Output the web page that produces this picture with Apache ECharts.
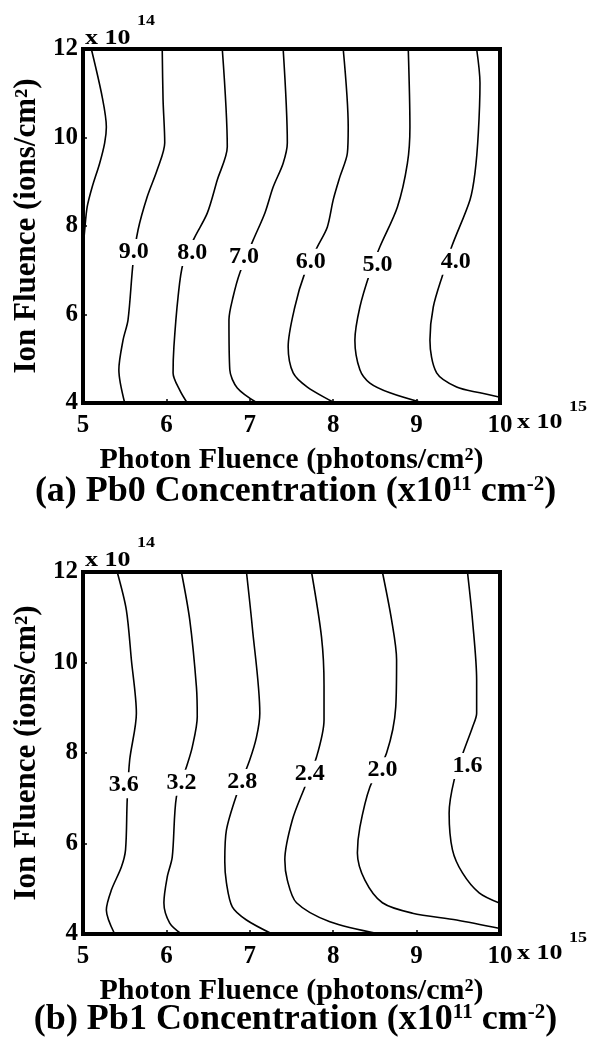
<!DOCTYPE html>
<html>
<head>
<meta charset="utf-8">
<script src="https://cdn.jsdelivr.net/npm/echarts@6/dist/echarts.min.js"></script>
<style>
  html, body { margin: 0; padding: 0; background: #fff; }
  #chart { width: 591px; height: 1042px; }
</style>
</head>
<body>
<div id="chart"></div>
<script>
// axis ranges (x in 1e15 photons/cm2, y in 1e14 ions/cm2)
const xMin = 5, xMax = 10, xStep = 1
const yMin = 4, yMax = 12, yStep = 2

// (a) Pb0 contours, [photon fluence, ion fluence]
const pb0_10 = [[5.10,12.0],[5.23,10.92],[5.28,10.24],[5.26,9.88],[5.20,9.42],[5.11,8.88],[5.05,8.43],[5.02,7.9],[5.0,7.45]]
const pb0_9 = [[5.95,12.0],[5.96,10.85],[5.98,9.88],[5.89,9.27],[5.77,8.66],[5.66,7.91],[5.60,7.16],[5.54,5.88],[5.48,5.42],[5.43,4.75],[5.50,4.0]]
const pb0_8 = [[6.67,12.0],[6.73,9.79],[6.61,9.04],[6.49,8.29],[6.34,7.75],[6.20,7.16],[6.14,6.40],[6.09,5.27],[6.08,4.68],[6.16,4.29],[6.25,4.0]]
const pb0_7 = [[7.40,12.0],[7.45,9.88],[7.40,9.42],[7.28,8.88],[7.18,8.29],[7.04,7.68],[6.88,6.94],[6.80,6.40],[6.75,5.88],[6.76,4.75],[6.85,4.34],[7.09,4.0]]
const pb0_6 = [[8.12,12.0],[8.18,10.24],[8.17,9.65],[8.08,9.11],[8.00,8.59],[7.93,7.98],[7.81,7.53],[7.66,6.94],[7.54,6.17],[7.46,5.27],[7.52,4.68],[7.69,4.36],[8.02,4.0]]
const pb0_5 = [[8.90,12.0],[8.92,10.24],[8.89,9.42],[8.77,8.43],[8.56,7.53],[8.44,6.94],[8.32,6.17],[8.26,5.42],[8.32,4.75],[8.44,4.45],[8.68,4.23],[9.08,4.0]]
const pb0_4 = [[9.72,12.0],[9.76,11.23],[9.74,10.10],[9.70,9.20],[9.64,8.59],[9.42,7.53],[9.32,6.94],[9.20,6.17],[9.16,5.42],[9.24,4.68],[9.48,4.36],[9.76,4.23],[10.0,4.13]]
const pb0Labels = ['9.0', '8.0', '7.0', '6.0', '5.0', '4.0']
const pb0LabelX = [5.61, 6.31, 6.93, 7.73, 8.53, 9.47]
const pb0LabelY = [7.41, 7.39, 7.30, 7.19, 7.12, 7.19]

// (b) Pb1 contours
const pb1_36 = [[5.41,12.0],[5.52,11.16],[5.58,10.06],[5.64,8.88],[5.56,7.85],[5.53,6.96],[5.51,5.86],[5.46,5.48],[5.34,4.97],[5.28,4.53],[5.38,4.0]]
const pb1_32 = [[6.18,12.0],[6.28,10.94],[6.36,9.46],[6.37,8.80],[6.31,8.13],[6.24,7.69],[6.12,7.03],[6.07,5.70],[6.01,5.26],[5.97,4.69],[6.04,4.24],[6.18,4.0]]
const pb1_28 = [[6.96,12.0],[7.03,10.78],[7.12,8.88],[7.08,8.35],[7.00,7.85],[6.85,7.12],[6.72,6.30],[6.70,5.60],[6.72,5.13],[6.79,4.60],[6.96,4.31],[7.27,4.0]]
const pb1_24 = [[7.74,12.0],[7.86,10.56],[7.89,9.50],[7.89,8.73],[7.80,7.91],[7.66,7.25],[7.51,6.52],[7.42,5.64],[7.45,5.19],[7.56,4.69],[7.96,4.27],[8.56,4.0]]
const pb1_20 = [[8.59,12.0],[8.70,10.94],[8.76,10.06],[8.75,9.02],[8.64,8.0],[8.44,7.25],[8.32,6.36],[8.29,5.79],[8.38,5.19],[8.59,4.69],[8.95,4.46],[9.48,4.31],[10.0,4.12]]
const pb1_16 = [[9.61,12.0],[9.67,10.94],[9.72,9.61],[9.72,8.88],[9.67,8.57],[9.57,8.07],[9.45,7.40],[9.39,6.67],[9.43,5.86],[9.55,5.35],[9.75,4.91],[10.0,4.68]]
const pb1Labels = ['3.6', '3.2', '2.8', '2.4', '2.0', '1.6']
const pb1LabelX = [5.49, 6.18, 6.91, 7.72, 8.59, 9.61]
const pb1LabelY = [7.29, 7.34, 7.36, 7.54, 7.62, 7.71]

const serif = '"Liberation Serif", "Times New Roman", serif'
const sup = { fontFamily: serif, fontWeight: 'bold', fill: '#000' }

const chart = echarts.init(document.getElementById('chart'))

const makeX = (gridIndex) => ({
  type: 'value', gridIndex, min: xMin, max: xMax, interval: xStep,
  axisLine: { show: false },
  axisTick: { show: true, inside: true, length: 4, lineStyle: { color: '#000', width: 1.5 } },
  splitLine: { show: false },
  axisLabel: { color: '#000', fontFamily: serif, fontWeight: 'bold', fontSize: 25, margin: 10 },
  name: 'Photon Fluence (photons/cm²)',
  nameLocation: 'middle', nameGap: 42,
  nameTextStyle: { color: '#000', fontFamily: serif, fontWeight: 'bold', fontSize: 30 }
})

const makeY = (gridIndex) => ({
  type: 'value', gridIndex, min: yMin, max: yMax, interval: yStep,
  axisLine: { show: false },
  axisTick: { show: true, inside: true, length: 4, lineStyle: { color: '#000', width: 1.5 } },
  splitLine: { show: false },
  axisLabel: { color: '#000', fontFamily: serif, fontWeight: 'bold', fontSize: 25, margin: 5 },
  name: 'Ion Fluence (ions/cm²)',
  nameLocation: 'middle', nameGap: 36, nameRotate: 90,
  nameTextStyle: { color: '#000', fontFamily: serif, fontWeight: 'bold', fontSize: 31 }
})

const contour = (data, idx) => ({
  type: 'line', data, xAxisIndex: idx, yAxisIndex: idx,
  symbol: 'none', smooth: 0.3, silent: true,
  lineStyle: { color: '#000', width: 1.6 }
})

const labels = (names, xs, ys, idx) => ({
  type: 'scatter', xAxisIndex: idx, yAxisIndex: idx, symbolSize: 0, silent: true, z: 5,
  itemStyle: { color: '#000', opacity: 1 },
  data: names.map((n, i) => [xs[i], ys[i], n]),
  label: {
    show: true, position: 'inside', formatter: (p) => p.value[2],
    color: '#000', textBorderWidth: 0, fontFamily: serif, fontWeight: 'bold', fontSize: 24,
    backgroundColor: '#fff', padding: [1, 1]
  }
})

const caption = (letter, pb, top) => ({
  type: 'text', left: 'center', top,
  style: {
    text: `{b|(${letter}) ${pb} Concentration (x10}{s|11}{b| cm}{s|-2}{b|)}`,
    rich: {
      b: { fontFamily: serif, fontWeight: 'bold', color: '#000', fontSize: 36 },
      s: { fontFamily: serif, fontWeight: 'bold', color: '#000', fontSize: 21, verticalAlign: 'top' }
    }
  }
})

// "x 10" with a raised exponent, drawn slightly wide like the original figure
const power = (exp, left, top, rise) => ([
  { type: 'text', left, top, scaleX: 1.3, style: { ...sup, text: 'x 10', fontSize: 20 } },
  { type: 'text', left: left + 52, top: top - rise, scaleX: 1.2, style: { ...sup, text: exp, fontSize: 15 } }
])

chart.setOption({
  animation: false,
  backgroundColor: '#fff',
  grid: [
    { left: 83, top: 49, width: 417, height: 354, show: true, borderColor: '#000', borderWidth: 4 },
    { left: 83, top: 572, width: 417, height: 362, show: true, borderColor: '#000', borderWidth: 4 }
  ],
  xAxis: [makeX(0), makeX(1)],
  yAxis: [makeY(0), makeY(1)],
  series: [
    contour(pb0_10, 0), contour(pb0_9, 0), contour(pb0_8, 0), contour(pb0_7, 0),
    contour(pb0_6, 0), contour(pb0_5, 0), contour(pb0_4, 0),
    labels(pb0Labels, pb0LabelX, pb0LabelY, 0),
    contour(pb1_36, 1), contour(pb1_32, 1), contour(pb1_28, 1),
    contour(pb1_24, 1), contour(pb1_20, 1), contour(pb1_16, 1),
    labels(pb1Labels, pb1LabelX, pb1LabelY, 1)
  ],
  graphic: [
    ...power('14', 85, 29, 15),
    ...power('15', 517, 413, 13),
    caption('a', 'Pb0', 474),
    ...power('14', 85, 551, 15),
    ...power('15', 517, 944, 13),
    caption('b', 'Pb1', 1002)
  ]
})
</script>
</body>
</html>
